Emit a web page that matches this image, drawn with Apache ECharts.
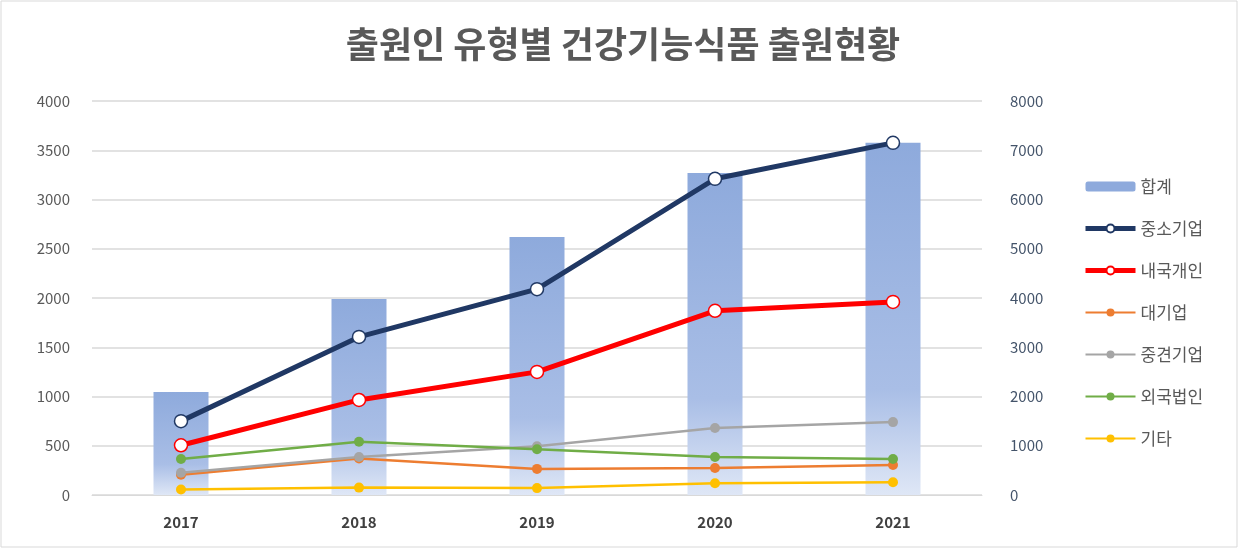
<!DOCTYPE html>
<html>
<head>
<meta charset="utf-8">
<script src="https://cdn.jsdelivr.net/npm/echarts@6/dist/echarts.min.js"></script>
<style>
  html, body { margin: 0; padding: 0; background: #fff; }
  #chart { width: 1246px; height: 549px; }
</style>
</head>
<body>
<div id="chart"></div>
<script>
var years = ['2017', '2018', '2019', '2020', '2021'];
var total = [2090, 3980, 5240, 6540, 7150];        // 합계 (right axis)
var smallBiz = [750, 1605, 2090, 3210, 3575];       // 중소기업
var person = [505, 965, 1250, 1870, 1960];          // 내국개인
var bigBiz = [205, 370, 265, 275, 305];             // 대기업
var midBiz = [225, 385, 495, 680, 740];             // 중견기업
var foreignCorp = [365, 540, 465, 385, 365];        // 외국법인
var etc = [55, 75, 70, 120, 130];                   // 기타

var chart = echarts.init(document.getElementById('chart'));

function lineSeries(name, data, color, width, hollow) {
    return {
        name: name,
        type: 'line',
        yAxisIndex: 0,
        data: data,
        symbol: 'circle',
        symbolSize: hollow ? 13 : 10,
        lineStyle: { color: color, width: width },
        itemStyle: hollow
            ? { color: '#ffffff', borderColor: color, borderWidth: 1.5 }
            : { color: color, borderWidth: 0 },
        z: 3
    };
}

var option = {
    backgroundColor: '#ffffff',
    textStyle: { fontFamily: '"Noto Sans CJK KR", "Noto Sans", sans-serif' },
    title: {
        text: '출원인 유형별 건강기능식품 출원현황',
        left: 'center',
        top: 21,
        textStyle: { fontSize: 36, fontWeight: 'bold', color: '#595959' }
    },
    legend: {
        orient: 'vertical',
        left: 1078,
        top: 173,
        itemGap: 25,
        itemWidth: 50,
        itemHeight: 10,
        textStyle: { fontSize: 17, color: '#595959' },
        data: [
            { name: '합계', itemStyle: { color: '#8eaadc' } },
            { name: '중소기업', lineStyle: { width: 5 } },
            { name: '내국개인', lineStyle: { width: 5 } },
            '대기업', '중견기업', '외국법인', '기타'
        ]
    },
    grid: { left: 92, right: 264, top: 101, bottom: 54 },
    xAxis: {
        type: 'category',
        data: years,
        axisLine: { lineStyle: { color: '#d9d9d9' } },
        axisTick: { show: false },
        axisLabel: { fontSize: 15, fontWeight: 'bold', color: '#404040', margin: 20 }
    },
    yAxis: [
        {
            type: 'value',
            min: 0, max: 4000, interval: 500,
            axisLabel: { fontSize: 15, color: '#595959', margin: 22, formatter: function (v) { return String(v); } },
            splitLine: { lineStyle: { color: '#d9d9d9', width: 1.5 } },
            axisLine: { show: false }
        },
        {
            type: 'value',
            min: 0, max: 8000, interval: 1000,
            axisLabel: { fontSize: 15, color: '#44546a', margin: 28, formatter: function (v) { return String(v); } },
            splitLine: { show: false },
            axisLine: { show: false }
        }
    ],
    series: [
        {
            name: '합계',
            type: 'bar',
            yAxisIndex: 1,
            data: total,
            barWidth: 55,
            itemStyle: {
                color: new echarts.graphic.LinearGradient(0, 0, 0, 1, [
                    { offset: 0, color: '#8eaadc' },
                    { offset: 0.7, color: '#a9bee6' },
                    { offset: 1, color: '#dfe7f6' }
                ])
            },
            z: 1
        },
        lineSeries('중소기업', smallBiz, '#203864', 5, true),
        lineSeries('내국개인', person, '#ff0000', 5, true),
        lineSeries('대기업', bigBiz, '#ed7d31', 2.5, false),
        lineSeries('중견기업', midBiz, '#a5a5a5', 2.5, false),
        lineSeries('외국법인', foreignCorp, '#70ad47', 2.5, false),
        lineSeries('기타', etc, '#ffc000', 2.5, false)
    ],
    graphic: [
        {
            type: 'rect',
            shape: { x: 1, y: 1, width: 1236, height: 546 },
            style: { fill: 'none', stroke: '#d9d9d9', lineWidth: 1 },
            silent: true
        }
    ]
};

chart.setOption(option);
</script>
</body>
</html>
